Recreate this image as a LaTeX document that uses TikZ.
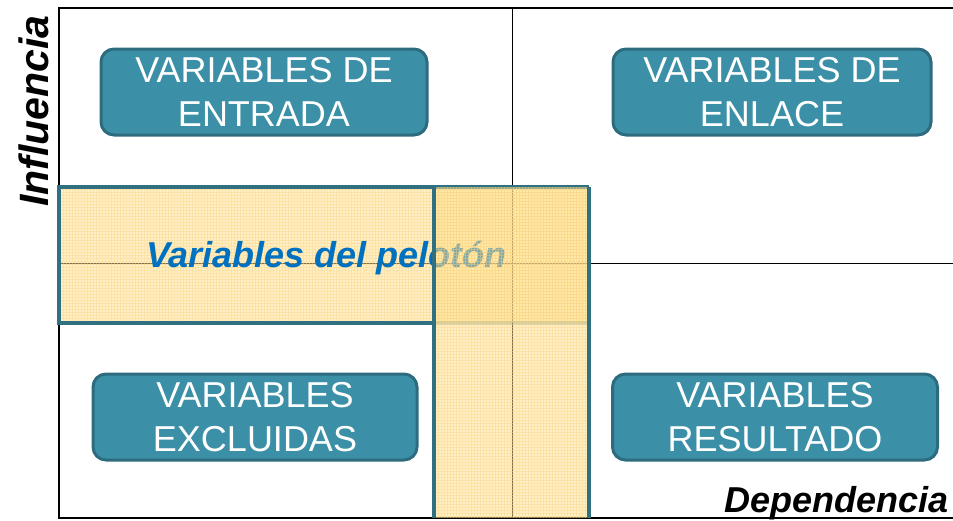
\documentclass[tikz,border=0pt]{standalone}
\usepackage{fontspec}
\setmainfont{Liberation Sans}
\usetikzlibrary{positioning}
\usepackage{xcolor}
\definecolor{boxfill}{RGB}{59,143,166}
\definecolor{boxedge}{RGB}{45,108,126}
\definecolor{bandfill}{RGB}{255,224,140}
\definecolor{bandgrid}{RGB}{250,210,130}
\definecolor{bandedge}{RGB}{48,112,128}
\definecolor{pelotonblue}{RGB}{0,112,192}

\begin{document}
\begin{tikzpicture}[x=1pt, y=-1pt,
    quadrant/.style={draw=boxedge, line width=3pt, fill=boxfill, rounded corners=13pt, text=white, align=center, font=\fontsize{36}{44}\selectfont, minimum height=86pt, inner sep=0pt},
    band/.style={fill=bandfill, fill opacity=0.5},
    bandline/.style={draw=bandedge, line width=3.2pt},
    axislabel/.style={font=\fontsize{41}{44}\selectfont\bfseries\itshape, inner sep=0pt}
]
    \useasboundingbox (0,0) rectangle (953,520);

    % Axes and quadrant lines
    \draw[line width=1pt] (512,8) -- (512,518);
    \draw[line width=1pt] (59,263) -- (953,263);
    \draw[line width=2.2pt] (953,8) -- (59,8) -- (59,518) -- (953,518);

    % Horizontal band
    \fill[band] (59,187) rectangle (589,323);
    \begin{scope}
        \clip (59,187) rectangle (589,323);
        \draw[bandgrid, line width=0.2pt, opacity=0.45, step=3pt] (59,187) grid (589,323);
    \end{scope}
    \draw[bandline] (434,323) -- (59,323) -- (59,187) -- (589,187);
    \draw[bandline, draw opacity=0.4] (434,323) -- (589,323);

    % Band label
    \node[font=\fontsize{36}{40}\selectfont\bfseries\itshape, text=pelotonblue, anchor=base west, inner sep=0pt] (peloton) at (146,267) {Variables del pelotón};

    % Vertical band
    \fill[band] (434,187) rectangle (589,518);
    \begin{scope}
        \clip (434,187) rectangle (589,518);
        \draw[bandgrid, line width=0.2pt, opacity=0.45, step=3pt] (434,187) grid (589,518);
    \end{scope}
    \draw[bandline] (434,187) -- (434,518);
    \draw[bandline] (589,187) -- (589,518);

    % Quadrants
    \node[quadrant, minimum width=326pt] (entrada) at (264,92) {VARIABLES DE\\ENTRADA};
    \node[quadrant, minimum width=318pt] (enlace) at (772,92) {VARIABLES DE\\ENLACE};
    \node[quadrant, minimum width=324pt] (excluidas) at (255,417) {VARIABLES\\EXCLUIDAS};
    \node[quadrant, minimum width=325pt] (resultado) at (775,417) {VARIABLES\\RESULTADO};

    % Axis labels
    \node[axislabel, rotate=90] (influencia) at (34,111) {Influencia};
    \node[axislabel, font=\fontsize{36}{40}\selectfont\bfseries\itshape, anchor=base east] (dependencia) at (949,512) {Dependencia};

\end{tikzpicture}
\end{document}
